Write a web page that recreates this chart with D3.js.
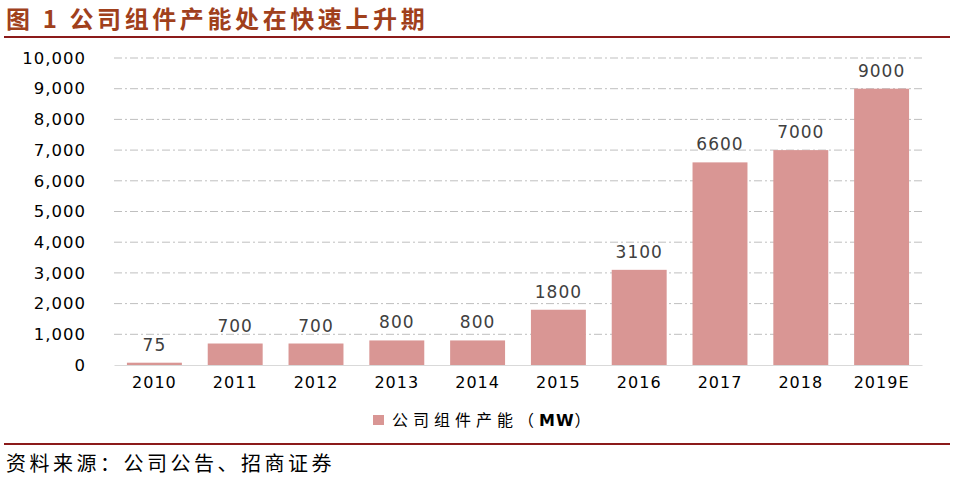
<!DOCTYPE html>
<html><head><meta charset="utf-8">
<script src="https://cdn.jsdelivr.net/npm/d3@7"></script>
<style>body{margin:0;background:#fff;}svg{display:block;}</style>
</head><body>
<script>
const categories = ["2010","2011","2012","2013","2014","2015","2016","2017","2018","2019E"];
const capacity = [75,700,700,800,800,1800,3100,6600,7000,9000];
const yTicks = [0,1000,2000,3000,4000,5000,6000,7000,8000,9000,10000];
const seriesName = "公司组件产能";
const seriesUnit = "MW";
const title = "图 1  公司组件产能处在快速上升期";
const source = "资料来源：公司公告、招商证券";

const W = 954, H = 484;
const svg = d3.select("body").append("svg").attr("width", W).attr("height", H);
const cjk = "'Noto Sans CJK SC', sans-serif";
const lat = "'DejaVu Sans', sans-serif";

svg.append("text").attr("x", 6).attr("y", 28).text(title)
  .attr("font-family", cjk).attr("font-weight", "bold").attr("font-size", 24).attr("fill", "#A0401C").attr("letter-spacing", 3.6);
svg.append("line").attr("x1", 4).attr("x2", 950).attr("y1", 37).attr("y2", 37).attr("stroke", "#8B1A1A").attr("stroke-width", 2);
svg.append("line").attr("x1", 4).attr("x2", 950).attr("y1", 444).attr("y2", 444).attr("stroke", "#8B1A1A").attr("stroke-width", 2);
svg.append("text").attr("x", 6).attr("y", 471).text(source)
  .attr("font-family", cjk).attr("font-size", 20).attr("fill", "#000").attr("letter-spacing", 3.5);

const x = d3.scaleBand().domain(categories).range([114, 922]).paddingInner(0.32).paddingOuter(0.16);
const y = d3.scaleLinear().domain([0, 10000]).range([365, 58]);

const grid = svg.append("g");
grid.selectAll("line").data(yTicks.filter(d => d > 0)).join("line")
  .attr("x1", 114).attr("x2", 922).attr("y1", d => y(d)).attr("y2", d => y(d))
  .attr("stroke", "#BFBFBF").attr("stroke-width", 1).attr("stroke-dasharray", "8,3,2,3");

const yAxis = svg.append("g").attr("transform", "translate(114,0)")
  .call(d3.axisLeft(y).tickValues(yTicks).tickFormat(d3.format(",")).tickSize(0).tickPadding(28));
yAxis.select(".domain").remove();
yAxis.selectAll("text").attr("font-family", lat).attr("font-size", 16.5).attr("fill", "#000").attr("letter-spacing", 1);

svg.selectAll("rect.bar").data(capacity).join("rect").attr("class", "bar")
  .attr("x", (d, i) => x(categories[i])).attr("width", x.bandwidth())
  .attr("y", d => y(d)).attr("height", d => y(0) - y(d)).attr("fill", "#D99694");

svg.selectAll("text.val").data(capacity).join("text").attr("class", "val")
  .attr("x", (d, i) => x(categories[i]) + x.bandwidth() / 2).attr("y", d => y(d) - 12)
  .attr("text-anchor", "middle").text(d => d)
  .attr("font-family", lat).attr("font-size", 17).attr("fill", "#404040").attr("letter-spacing", 1);

const xAxis = svg.append("g").attr("transform", "translate(0,365)")
  .call(d3.axisBottom(x).tickSize(0).tickPadding(12));
xAxis.select(".domain").attr("stroke", "#D9D9D9");
xAxis.selectAll("text").attr("font-family", lat).attr("font-size", 16).attr("fill", "#000").attr("letter-spacing", 1);

const leg = svg.append("g").attr("transform", "translate(373,415)");
leg.append("rect").attr("width", 11).attr("height", 10).attr("fill", "#D99694");
const lt = leg.append("text").attr("x", 19).attr("y", 11)
  .attr("font-family", cjk).attr("font-size", 16).attr("fill", "#000").attr("letter-spacing", 5);
lt.append("tspan").text(seriesName + "（");
lt.append("tspan").text(seriesUnit).attr("font-weight", "bold").attr("font-family", lat).attr("letter-spacing", 1);
lt.append("tspan").text("）");
</script>
</body></html>
